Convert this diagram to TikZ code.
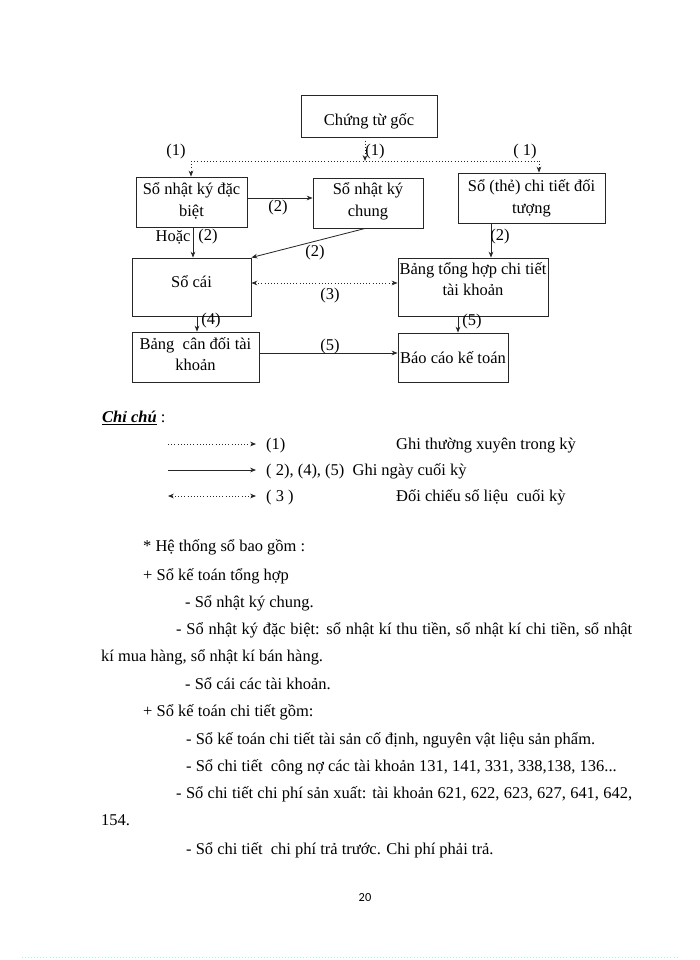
\documentclass[tikz,border=0pt]{standalone}
\usepackage{fontspec}
\setmainfont{Liberation Serif}
\newfontfamily\pagenumfont{Carlito}
\usetikzlibrary{arrows.meta}
% #1 name, #2 x1, #3 y1, #4 x2, #5 y2, #6 text, #7 vertical offset of text (px, down)
\newcommand\bx[7]{%
  \node[box, minimum width={(#4-#2)*0.85pt}, minimum height={(#5-#3)*0.85pt}] (#1) at ({(#2+#4)/2},{(#3+#5)/2}) {};
  \node[boxtxt] (#1-t) at ({(#2+#4)/2},{(#3+#5)/2+#7}) {#6};}
\begin{document}
\begin{tikzpicture}[x=0.85pt,y=-0.85pt,
  box/.style={draw=black!85, line width=0.8pt, inner sep=0pt},
  boxtxt/.style={inner sep=0pt, align=center, font=\fontsize{14}{18.5}\selectfont},
  lbl/.style={inner sep=0pt, font=\fontsize{14}{16}\selectfont},
  txt/.style={inner sep=0pt, anchor=base west, font=\fontsize{14}{16}\selectfont},
  tip/.style={-{Stealth[length=5pt,width=4pt]}},
  sol/.style={line width=0.7pt, draw=black!85, tip},
  dot/.style={line width=0.7pt, draw=black!85, dotted, tip},
  dotline/.style={line width=0.7pt, draw=black!85, dotted},
  dotboth/.style={line width=0.7pt, draw=black!85, dotted, {Stealth[length=5pt,width=4pt]}-{Stealth[length=5pt,width=4pt]}},
]
\useasboundingbox (0,0) rectangle (700,960);

% boxes
\bx{goc}{301}{95}{437}{137}{Chứng từ gốc}{5}
\bx{dacbiet}{136}{177}{247}{227}{Sổ nhật ký đặc\\biệt}{-1}
\bx{chung}{313}{178}{423}{228}{Sổ nhật ký\\chung}{-2}
\bx{chitiet}{458}{173}{605}{223}{Sổ (thẻ) chi tiết đối\\tượng}{0}
\bx{socai}{132}{258}{251}{316}{Sổ cái}{-5}
\bx{tonghop}{398}{258}{548}{316}{Bảng tổng hợp chi tiết\\tài khoản}{-8}
\bx{candoi}{132}{332}{259}{382}{Bảng\ \ cân đối tài\\khoản}{-3}
\bx{baocao}{398}{333}{508}{382}{Báo cáo kế toán}{0}

% distribution from Chung tu goc
\coordinate (j) at (365,161);
\coordinate (jl) at (191,161);
\coordinate (jr) at (539,161);
\draw[dot] (goc.south -| j) -- (j);
\draw[dotline] (jl) -- (jr);
\draw[dot] (jl) -- (jl |- dacbiet.north);
\draw[dot] (jr) -- (jr |- chitiet.north);

% flows
\draw[sol] (dacbiet.east |- 0,198) -- (chung.west |- 0,198);
\draw[sol] (dacbiet.south -| 193,0) -- (socai.north -| 193,0);
\draw[sol] (chung.south -| 365,0) -- (socai.north east);
\draw[sol] (chitiet.south -| 491,0) -- (tonghop.north -| 491,0);
\draw[dotboth] (socai.east |- 0,283) -- (tonghop.west |- 0,283);
\draw[sol] (socai.south -| 197,0) -- (candoi.north -| 197,0);
\draw[sol] (candoi.east |- 0,353) -- (baocao.west |- 0,353);
\draw[sol] (tonghop.south -| 458,0) -- (baocao.north -| 458,0);

% labels
\node[lbl] (l1a) at (176,152) {(1)};
\node[lbl] (l1b) at (375,152) {(1)};
\node[lbl] (l1c) at (525,152) {( 1)};
\node[lbl] (l2a) at (278,208) {(2)};
\node[lbl] (lhoac) at (173,237) {Hoặc};
\node[lbl] (l2b) at (208,237) {(2)};
\node[lbl] (l2c) at (315,253) {(2)};
\node[lbl] (l2d) at (500,237) {(2)};
\node[lbl] (l3) at (330,296) {(3)};
\node[lbl] (l4) at (211,321) {(4)};
\node[lbl] (l5a) at (330,347) {(5)};
\node[lbl] (l5b) at (472,322) {(5)};

% legend
\node[txt] (chichu) at (102,422) {\underline{\textbf{\textit{Chỉ chú}}} :};
\coordinate (g1a) at (168,444); \coordinate (g1b) at (256,444);
\coordinate (g2a) at (168,470); \coordinate (g2b) at (256,470);
\coordinate (g3a) at (168,496); \coordinate (g3b) at (256,496);
\draw[dot] (g1a) -- (g1b);
\draw[sol] (g2a) -- (g2b);
\draw[dotboth] (g3a) -- (g3b);
\node[txt] (k1) at (266,449) {(1)};
\node[txt] (d1) at (396,449) {Ghi thường xuyên trong kỳ};
\node[txt] (k2) at (266,475) {( 2), (4), (5)\ \ Ghi ngày cuối kỳ};
\node[txt] (k3) at (266,501) {( 3 )};
\node[txt] (d3) at (396,501) {Đối chiếu số liệu\ \ cuối kỳ};

% body text
\node[txt] (t1) at (143,551) {* Hệ thống sổ bao gồm :};
\node[txt] (t2) at (143,580) {+ Sổ kế toán tổng hợp};
\node[txt] (t3) at (185,607) {- Sổ nhật ký chung.};
\node[txt] (t4) at (176,634) {\makebox[456\dimexpr0.85pt\relax][s]{- Sổ nhật ký đặc biệt: sổ nhật kí thu tiền, sổ nhật kí chi tiền, sổ nhật}};
\node[txt] (t5) at (101,661) {kí mua hàng, sổ nhật kí bán hàng.};
\node[txt] (t6) at (185,689) {- Sổ cái các tài khoản.};
\node[txt] (t7) at (143,716) {+ Sổ kế toán chi tiết gồm:};
\node[txt] (t8) at (186,744) {- Sổ kế toán chi tiết tài sản cố định, nguyên vật liệu sản phẩm.};
\node[txt] (t9) at (186,771) {- Sổ chi tiết\ \ công nợ các tài khoản 131, 141, 331, 338,138, 136...};
\node[txt] (t10) at (176,798) {\makebox[456\dimexpr0.85pt\relax][s]{- Sổ chi tiết chi phí sản xuất: tài khoản 621, 622, 623, 627, 641, 642,}};
\node[txt] (t11) at (101,825) {154.};
\node[txt] (t12) at (186,854) {- Sổ chi tiết\ \ chi phí trả trước. Chi phí phải trả.};

% page number and footer rule
\node[inner sep=0pt, font=\pagenumfont\fontsize{10.5}{12}\selectfont] (pg) at (365,898) {20};
\coordinate (fl) at (22,957); \coordinate (fr) at (678,957);
\draw[green!50!cyan!40, line width=0.6pt, dotted] (fl) -- (fr);
\end{tikzpicture}
\end{document}
